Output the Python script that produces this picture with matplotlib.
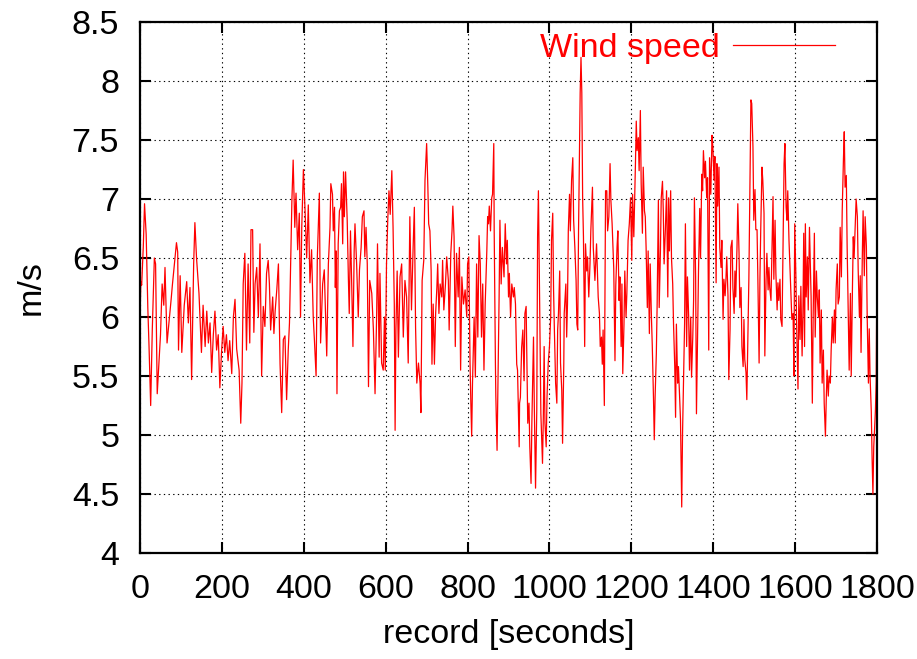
"""Wind speed record plotted gnuplot-style"""

import matplotlib
matplotlib.use("Agg")
import matplotlib.pyplot as plt

# record time [s]
record_seconds = [
    0, 2, 4, 8, 11, 15, 19, 22, 26, 30, 35, 38, 42, 46, 50, 54, 58, 61, 66, 72,
    76, 79, 84, 89, 92, 94, 98, 102, 108, 114, 118, 122, 126, 131, 134, 138, 144, 150, 154, 159,
    163, 167, 171, 175, 179, 183, 187, 191, 195, 199, 203, 207, 211, 215, 219, 224, 228, 232, 236, 242,
    246, 249, 252, 256, 260, 264, 268, 271, 275, 278, 281, 285, 289, 293, 297, 301, 305, 309, 313, 316,
    319, 324, 327, 330, 334, 338, 342, 346, 350, 354, 358, 362, 365, 369, 371, 374, 378, 381, 385, 389,
    392, 395, 399, 403, 407, 411, 415, 419, 423, 426, 430, 433, 438, 441, 446, 450, 456, 460, 464, 466,
    470, 472, 475, 477, 479, 481, 484, 487, 490, 492, 495, 497, 499, 502, 506, 509, 511, 514, 517, 520,
    523, 525, 529, 533, 536, 540, 543, 547, 549, 552, 555, 558, 561, 566, 570, 574, 578, 580, 584, 586,
    590, 594, 597, 599, 602, 605, 608, 611, 615, 618, 621, 623, 625, 628, 631, 635, 639, 643, 647, 651,
    655, 659, 663, 667, 670, 673, 676, 680, 684, 686, 689, 693, 696, 700, 703, 705, 708, 711, 713, 716,
    719, 722, 725, 727, 730, 733, 737, 739, 742, 746, 749, 753, 755, 759, 762, 764, 767, 770, 773, 777,
    780, 783, 786, 790, 794, 798, 800, 803, 806, 808, 810, 812, 816, 819, 822, 825, 828, 831, 834, 837,
    840, 843, 847, 849, 851, 853, 856, 859, 861, 864, 865, 868, 869, 872, 874, 877, 879, 882, 885, 889,
    892, 895, 897, 900, 902, 905, 908, 912, 914, 917, 920, 922, 926, 927, 929, 932, 935, 938, 940, 943,
    945, 947, 950, 952, 955, 957, 961, 963, 966, 969, 971, 973, 975, 977, 979, 983, 985, 987, 989, 992,
    994, 997, 1000, 1003, 1005, 1008, 1010, 1012, 1015, 1018, 1020, 1022, 1025, 1027, 1030, 1032, 1035, 1036, 1040, 1042,
    1044, 1046, 1049, 1051, 1054, 1057, 1059, 1062, 1065, 1067, 1069, 1071, 1074, 1075, 1077, 1079, 1081, 1083, 1086, 1088,
    1091, 1093, 1096, 1099, 1101, 1105, 1107, 1111, 1115, 1119, 1122, 1124, 1127, 1129, 1131, 1134, 1137, 1140, 1142, 1145,
    1148, 1150, 1153, 1156, 1157, 1160, 1162, 1165, 1167, 1170, 1172, 1175, 1177, 1179, 1182, 1184, 1187, 1189, 1192, 1195,
    1198, 1201, 1203, 1206, 1210, 1212, 1214, 1217, 1219, 1222, 1224, 1227, 1229, 1232, 1234, 1236, 1239, 1241, 1244, 1246,
    1249, 1251, 1254, 1256, 1258, 1261, 1263, 1266, 1268, 1271, 1273, 1276, 1278, 1280, 1283, 1286, 1289, 1291, 1293, 1296,
    1298, 1301, 1303, 1306, 1308, 1310, 1313, 1315, 1318, 1320, 1323, 1325, 1328, 1330, 1332, 1335, 1337, 1340, 1342, 1345,
    1347, 1350, 1352, 1354, 1357, 1359, 1362, 1364, 1367, 1369, 1372, 1374, 1376, 1379, 1381, 1384, 1386, 1389, 1391, 1394,
    1397, 1399, 1402, 1404, 1407, 1409, 1411, 1414, 1416, 1419, 1421, 1424, 1426, 1429, 1431, 1433, 1436, 1438, 1441, 1443,
    1446, 1448, 1451, 1453, 1455, 1458, 1460, 1463, 1465, 1468, 1470, 1473, 1475, 1477, 1480, 1482, 1485, 1487, 1490, 1492,
    1494, 1497, 1499, 1502, 1504, 1507, 1509, 1512, 1514, 1516, 1519, 1521, 1524, 1526, 1529, 1531, 1534, 1536, 1538, 1541,
    1543, 1546, 1548, 1551, 1553, 1556, 1558, 1560, 1563, 1565, 1568, 1570, 1573, 1575, 1578, 1580, 1582, 1585, 1587, 1590,
    1592, 1595, 1597, 1599, 1602, 1604, 1607, 1609, 1612, 1614, 1617, 1619, 1621, 1623, 1625, 1627, 1630, 1632, 1635, 1637,
    1639, 1642, 1644, 1647, 1649, 1652, 1654, 1657, 1659, 1661, 1664, 1666, 1669, 1671, 1674, 1676, 1678, 1681, 1683, 1686,
    1688, 1691, 1693, 1696, 1698, 1700, 1703, 1705, 1708, 1710, 1713, 1715, 1718, 1720, 1722, 1725, 1727, 1730, 1732, 1735,
    1737, 1740, 1742, 1744, 1747, 1749, 1752, 1754, 1757, 1759, 1761, 1764, 1766, 1769, 1771, 1774, 1776, 1779, 1781, 1783,
    1786, 1788, 1790, 1792, 1794, 1796, 1798, 1800,
]

# wind speed [m/s]
wind_speed = [
    6.00, 6.30, 6.27, 6.60, 6.96, 6.70, 6.08, 5.75, 5.25, 5.90, 6.50, 6.45, 5.35, 5.60, 5.85, 6.28, 6.10, 6.42, 5.78, 6.00,
    6.15, 6.27, 6.45, 6.63, 6.55, 5.72, 6.35, 5.70, 6.10, 6.30, 5.95, 6.25, 5.47, 6.45, 6.80, 6.50, 6.20, 5.70, 6.10, 5.75,
    6.05, 5.78, 5.95, 5.53, 5.85, 6.05, 5.72, 5.85, 5.40, 5.70, 5.92, 5.70, 5.85, 5.63, 5.80, 5.52, 6.00, 6.15, 5.73, 5.55,
    5.10, 5.44, 6.28, 6.54, 5.72, 6.45, 5.78, 6.74, 6.74, 5.87, 6.28, 6.42, 6.00, 6.62, 5.50, 6.09, 5.92, 6.37, 6.48, 6.28,
    5.89, 6.17, 5.86, 6.05, 6.23, 6.45, 5.60, 5.19, 5.81, 5.84, 5.30, 5.72, 5.95, 6.65, 7.00, 7.33, 6.76, 7.05, 6.57, 6.88,
    6.00, 6.76, 7.25, 6.91, 6.50, 6.95, 6.29, 6.57, 6.00, 5.80, 5.50, 6.50, 7.05, 5.78, 6.28, 6.40, 5.67, 6.45, 6.76, 7.13,
    7.04, 6.73, 6.93, 6.25, 6.56, 5.35, 6.62, 6.90, 6.93, 7.13, 6.62, 7.23, 6.85, 7.23, 6.82, 6.31, 6.03, 6.73, 6.28, 5.75,
    6.56, 6.79, 6.45, 6.00, 6.40, 6.59, 6.85, 6.90, 6.51, 6.76, 6.45, 5.41, 6.31, 6.20, 5.89, 5.35, 6.03, 6.62, 5.66, 6.37,
    5.61, 5.55, 6.00, 5.55, 6.45, 6.82, 7.07, 6.87, 7.24, 6.76, 6.11, 5.04, 5.90, 6.39, 5.66, 6.34, 6.45, 5.83, 6.31, 6.17,
    5.61, 6.85, 6.06, 6.59, 6.93, 5.91, 5.44, 5.61, 5.44, 5.19, 6.31, 6.48, 7.16, 7.47, 7.10, 6.79, 6.73, 6.39, 5.60, 6.11,
    5.60, 6.03, 6.25, 6.45, 6.03, 6.28, 6.17, 6.48, 6.06, 6.28, 6.51, 6.31, 5.89, 6.54, 6.73, 6.94, 6.68, 5.75, 6.54, 6.17,
    6.59, 5.55, 6.34, 6.11, 6.23, 6.00, 6.45, 6.51, 5.61, 5.27, 4.99, 5.44, 6.00, 5.49, 6.45, 5.83, 6.69, 6.45, 5.83, 6.28,
    5.55, 6.11, 6.56, 6.85, 6.79, 6.94, 6.73, 7.01, 7.04, 7.47, 6.73, 5.60, 5.33, 4.87, 5.38, 6.17, 6.82, 6.28, 6.59, 6.34,
    6.79, 6.45, 6.65, 6.17, 6.37, 6.00, 6.28, 6.17, 6.25, 6.11, 5.60, 5.55, 4.90, 5.27, 5.32, 5.74, 5.89, 5.46, 6.03, 6.09,
    5.61, 5.10, 5.27, 4.90, 4.59, 5.10, 5.83, 5.24, 4.55, 5.21, 6.68, 7.07, 6.45, 5.75, 5.18, 4.76, 5.15, 5.75, 5.10, 4.90,
    5.32, 5.61, 5.75, 6.00, 6.65, 6.88, 6.23, 5.89, 5.44, 5.27, 5.89, 6.03, 6.39, 5.61, 5.38, 4.93, 5.61, 6.03, 6.28, 5.83,
    6.11, 6.73, 7.04, 6.73, 7.16, 7.35, 6.82, 6.59, 6.31, 5.94, 5.89, 6.73, 7.60, 7.90, 8.20, 7.90, 7.01, 6.68, 5.75, 6.62,
    6.39, 6.51, 6.17, 6.45, 6.73, 7.10, 6.59, 6.31, 6.62, 6.17, 6.03, 5.75, 5.83, 5.60, 5.89, 5.25, 7.07, 7.07, 6.73, 6.85,
    7.30, 6.99, 6.79, 6.50, 6.41, 5.63, 6.27, 6.59, 6.73, 6.14, 6.34, 5.75, 6.28, 5.52, 5.94, 6.39, 6.00, 6.20, 6.65, 6.79,
    7.01, 6.48, 7.04, 6.68, 7.30, 7.66, 7.41, 7.52, 7.24, 7.75, 7.13, 6.71, 7.27, 6.90, 6.85, 6.59, 6.08, 6.56, 5.86, 6.45,
    6.00, 5.77, 5.32, 4.96, 5.32, 5.69, 6.11, 6.99, 6.08, 6.56, 7.01, 7.15, 6.90, 6.45, 6.73, 7.07, 6.17, 7.01, 6.56, 7.07,
    6.50, 6.28, 5.94, 5.58, 5.15, 5.94, 5.44, 5.58, 5.30, 5.13, 4.39, 5.01, 5.58, 5.94, 6.79, 5.75, 6.34, 6.00, 5.55, 6.00,
    5.49, 5.83, 6.14, 7.01, 6.34, 5.18, 5.94, 6.39, 6.92, 6.50, 7.21, 7.07, 7.41, 7.18, 7.32, 7.01, 7.18, 5.72, 7.35, 7.04,
    7.54, 7.44, 7.16, 7.36, 6.29, 7.30, 6.94, 7.27, 6.59, 6.42, 6.65, 5.98, 6.32, 6.18, 6.32, 6.51, 6.18, 5.47, 5.89, 6.59,
    6.65, 6.25, 6.03, 6.39, 6.17, 6.59, 6.96, 6.54, 6.08, 6.25, 5.75, 5.58, 5.98, 5.64, 5.53, 5.30, 5.89, 6.32, 7.21, 7.84,
    7.81, 7.44, 6.82, 7.08, 6.74, 6.74, 6.32, 5.61, 6.32, 6.74, 7.27, 7.16, 6.88, 5.67, 6.32, 6.54, 6.23, 6.42, 6.25, 6.14,
    6.48, 7.02, 6.32, 6.82, 6.37, 6.06, 6.29, 6.14, 6.32, 5.98, 5.92, 6.46, 7.30, 7.47, 6.93, 6.82, 7.07, 6.65, 6.46, 6.20,
    5.98, 6.03, 5.50, 6.79, 6.32, 5.87, 5.39, 6.18, 5.81, 6.26, 5.67, 6.03, 6.71, 5.75, 6.79, 6.17, 6.51, 6.06, 6.76, 6.48,
    6.17, 5.27, 6.00, 6.71, 5.83, 6.39, 6.17, 6.00, 6.23, 5.61, 6.06, 5.44, 5.72, 5.27, 4.99, 5.30, 5.55, 5.33, 5.50, 5.44,
    5.72, 6.00, 5.78, 6.06, 5.78, 6.23, 6.45, 6.11, 6.17, 6.76, 6.34, 6.90, 7.34, 7.57, 7.10, 7.20, 6.60, 6.00, 5.55, 6.20,
    5.50, 6.25, 6.68, 6.50, 6.80, 7.00, 6.85, 6.40, 6.00, 6.35, 5.70, 6.50, 6.90, 6.35, 6.85, 6.60, 6.00, 5.44, 5.90, 5.50,
    5.20, 4.80, 4.50, 4.90, 5.05, 5.20, 5.45, 6.50,
]

x_ticks = [0, 200, 400, 600, 800, 1000, 1200, 1400, 1600, 1800]
y_ticks = [4, 4.5, 5, 5.5, 6, 6.5, 7, 7.5, 8, 8.5]
y_tick_labels = ["4", "4.5", "5", "5.5", "6", "6.5", "7", "7.5", "8", "8.5"]


def plot_wind_speed() -> None:
    """Plot the wind speed record and save it as out.png"""
    plt.rcParams["font.family"] = ["Liberation Sans", "DejaVu Sans"]
    fig = plt.figure(figsize=(9.17, 6.59), dpi=100)
    ax = fig.add_axes([0.1527, 0.1608, 0.8037, 0.8058])

    ax.plot(record_seconds, wind_speed, color="#ff0000", linewidth=0.9, label="Wind speed")

    ax.set_xlim(0, 1800)
    ax.set_ylim(4, 8.5)
    ax.set_xticks(x_ticks)
    ax.set_yticks(y_ticks)
    ax.set_yticklabels(y_tick_labels)
    ax.grid(True, color="black", linestyle=(0, (1.2, 3)), linewidth=0.8)
    ax.tick_params(direction="in", length=8, width=1.5, labelsize=24.5,
                   top=True, right=True, pad=15)
    for spine in ax.spines.values():
        spine.set_linewidth(1.6)

    ax.set_xlabel("record [seconds]", fontsize=24.5, labelpad=10)
    ax.set_ylabel("m/s", fontsize=24.5, labelpad=18)

    leg = ax.legend(loc="center right", bbox_to_anchor=(0.943, 0.951),
                    frameon=False, markerfirst=False, fontsize=24.5,
                    handlelength=3.0, handletextpad=0.4, borderpad=0,
                    borderaxespad=0)
    for text in leg.get_texts():
        text.set_color("#ff0000")

    fig.savefig("out.png", dpi=100)


if __name__ == "__main__":
    plot_wind_speed()
